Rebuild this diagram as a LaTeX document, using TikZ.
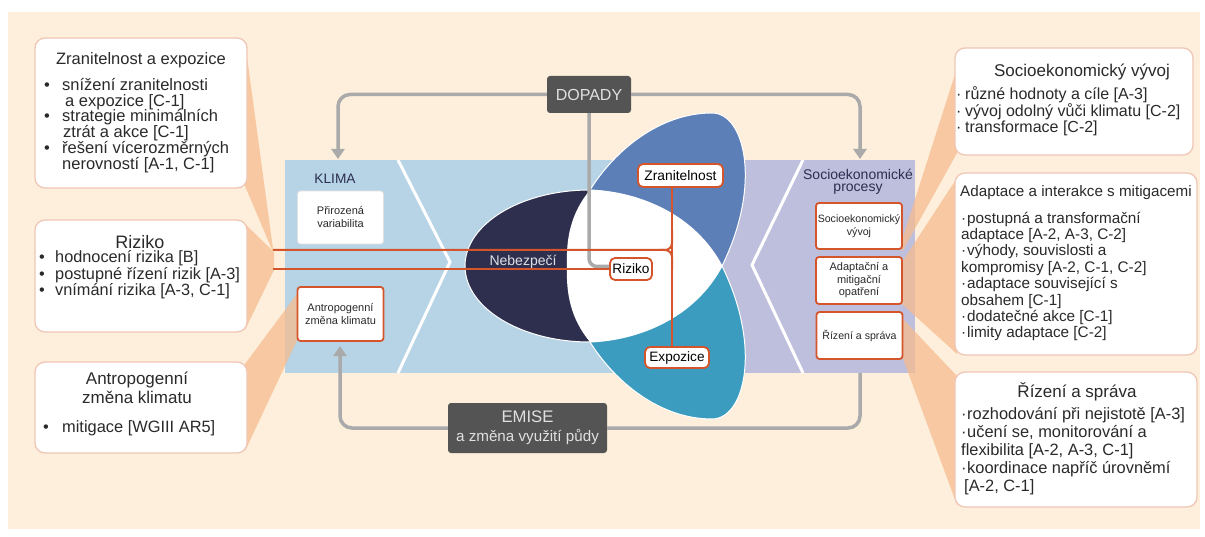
\documentclass[tikz,border=0pt]{standalone}
\usepackage{fontspec}
\setmainfont{Liberation Sans}
\usetikzlibrary{arrows.meta}
\definecolor{peach}{HTML}{FDEFDC}
\definecolor{wedge}{HTML}{F5BC8E}
\definecolor{klblue}{HTML}{B7D4E6}
\definecolor{lav}{HTML}{BEBEDD}
\definecolor{navy}{HTML}{2E2F4E}
\definecolor{petblue}{HTML}{5C7FB8}
\definecolor{petteal}{HTML}{3C9CC0}
\definecolor{redl}{HTML}{D5552B}
\definecolor{conn}{HTML}{AAAAAA}
\definecolor{dbox}{HTML}{545454}
\definecolor{bord}{HTML}{F0C6B6}
\definecolor{txt}{HTML}{2A2A2A}
\definecolor{paneltxt}{HTML}{2B2E50}
\newcommand{\myfs}[2]{\fontsize{#1}{#2}\selectfont}
\begin{document}
\begin{tikzpicture}[x=1pt,y=-1pt,
  bigbox/.style={draw=bord, line width=1.3pt, fill=white, rounded corners=10pt, inner sep=0pt},
  smallbox/.style={draw=redl, line width=1.8pt, fill=white, rounded corners=3pt, align=center, inner sep=0pt, text=txt, minimum width=86pt},
  plainbox/.style={draw=black!12, line width=0.8pt, fill=white, rounded corners=3pt, align=center, inner sep=0pt, text=txt, minimum width=86pt},
  tagbox/.style={draw=redl, line width=1.8pt, fill=white, rounded corners=5pt, inner sep=0pt, text=black},
  darkbox/.style={fill=dbox, rounded corners=3pt, text=white!88!black, align=center, inner sep=0pt},
  connline/.style={draw=conn, line width=3.5pt, rounded corners=12pt},
  connarrow/.style={connline, -{Triangle[width=13pt,length=10pt]}},
  redline/.style={draw=redl, line width=2pt},
  wedgefill/.style={fill=wedge, fill opacity=0.75, draw=none},
  txtn/.style={inner sep=0pt, text=txt},
  shapeedge/.style={draw=white, line width=1pt},
]
\useasboundingbox (0,0) rectangle (1205,537);
\fill[white] (0,0) rectangle (1205,537);
\fill[peach] (8,12) rectangle (1200,529);

% panels
\fill[klblue] (285,160) rectangle (680,373);
\fill[lav] (680,160) rectangle (915,373);
\draw[white, line width=3pt] (398,160) -- (450,262) -- (398,373);
\draw[white, line width=3pt] (803,160) -- (752,265) -- (803,373);

% callout wedges
\fill[wedgefill] (245,42) -- (273,249) -- (273,252) -- (245,186) -- cycle;
\fill[wedgefill] (245,224) -- (274,252) -- (274,270) -- (245,330) -- cycle;
\fill[wedgefill] (245,364) -- (300,290) -- (300,334) -- (245,451) -- cycle;
\fill[wedgefill] (957,68) -- (902,240) -- (902,252) -- (957,153) -- cycle;
\fill[wedgefill] (957,178) -- (902,262) -- (902,304) -- (957,354) -- cycle;
\fill[wedgefill] (957,376) -- (902,318) -- (902,356) -- (957,505) -- cycle;

% central shapes
\path[fill=navy, shapeedge] (590,266) ellipse [x radius=125pt, y radius=76pt];
\path[fill=petblue, shapeedge] (590,190) .. controls (615,150) and (660,113) .. (712,113)
  .. controls (745,113) and (762,185) .. (722,266)
  .. controls (695,215) and (640,192) .. (590,190) -- cycle;
\path[fill=petteal, shapeedge] (590,342) .. controls (615,382) and (660,419) .. (712,419)
  .. controls (745,419) and (762,347) .. (722,266)
  .. controls (695,317) and (640,340) .. (590,342) -- cycle;
\path[fill=white] (590,190) .. controls (640,192) and (695,215) .. (722,266)
  .. controls (695,317) and (640,340) .. (590,342)
  .. controls (570,318) and (566,292) .. (567,266)
  .. controls (566,240) and (570,214) .. (590,190) -- cycle;

% panel texts
\node[inner sep=0pt, text=paneltxt, font=\myfs{13.7}{15}] (klima) at (335,179) {KLIMA};
\node[inner sep=0pt, text=paneltxt, font=\myfs{14}{12.5}, align=center] (sproc) at (858,182) {Socioekonomické\\procesy};
\node[inner sep=0pt, text=white!85!navy, font=\myfs{14}{15}] (neb) at (523,262) {Nebezpečí};

% small boxes in panels
\node[plainbox, minimum height=53pt, font=\myfs{11}{13}] (pv) at (340.5,217.5) {Přirozená\\variabilita};
\node[smallbox, minimum height=54pt, font=\myfs{11}{13.5}] (az) at (340.5,314) {Antropogenní\\změna klimatu};
\node[smallbox, minimum height=46pt, font=\myfs{10.6}{13}] (sv) at (859,226) {Socioekonomický\\vývoj};
\node[smallbox, minimum height=47pt, font=\myfs{11}{12.5}] (am) at (859,280.5) {Adaptační a\\mitigační\\opatření};
\node[smallbox, minimum height=47pt, font=\myfs{10.6}{13}] (rs) at (859.5,335.5) {Řízení a správa};

% dark boxes
\node[darkbox, minimum width=84pt, minimum height=37pt, font=\myfs{16}{18}] (dop) at (589,94.5) {DOPADY};
\node[darkbox, minimum width=159pt, minimum height=50pt, font=\myfs{16}{19}] (em) at (527.5,428) {{\myfs{16.7}{19}EMISE}\\{\myfs{15.2}{19}a změna využití půdy}};

% tag boxes
\node[tagbox, minimum width=85pt, minimum height=23pt, font=\myfs{13.8}{15}] (zr) at (680.5,175.5) {Zranitelnost};
\node[tagbox, minimum width=42pt, minimum height=22pt, font=\myfs{13.6}{15}] (ri) at (631,269) {Riziko};
\node[tagbox, minimum width=64pt, minimum height=21pt, font=\myfs{13.6}{15}] (ex) at (677,357.5) {Expozice};

% gray connectors
\coordinate (kA) at (338,159);
\coordinate (sA) at (860,159);
\coordinate (aA) at (340,346);
\coordinate (eR) at (860,373);
\draw[connarrow] (dop.west) -| (kA);
\draw[connarrow] (dop.east) -| (sA);
\draw[connarrow] (em.west) -| (aA);
\draw[connline] (em.east) -| (eR);
\draw[connline, rounded corners=8pt] (dop.south) |- ([yshift=2.5pt]ri.west);

% red lines
\coordinate (lA) at (273,250);
\coordinate (lB) at (273,269);
\coordinate (bx) at (672,250);
\draw[redline] (zr.south -| bx) -- (ex.north -| bx);
\draw[redline, rounded corners=7pt] (lA) -- (bx) -- ([yshift=-20pt]bx);
\draw[redline, rounded corners=7pt] ([xshift=-12pt]bx) -- (bx) -- ([yshift=20pt]bx);
\draw[redline] (lB) -- (lB -| ri.west);

% left boxes
\node[bigbox, minimum width=212pt, minimum height=150pt] (b1) at (141,113) {};
\node[txtn, font=\myfs{16.5}{18}] (b1t) at (141,60) {Zranitelnost a expozice};
\node[txtn, font=\myfs{16.5}{15.8}, align=left, anchor=west] (b1l) at (44,125.5) {%
\makebox[18pt][l]{•}snížení zranitelnosti\\
\hspace*{21pt}a expozice [C-1]\\
\makebox[18pt][l]{•}strategie minimálních\\
\hspace*{19pt}ztrát a akce [C-1]\\
\makebox[18pt][l]{•}řešení vícerozměrných\\
\hspace*{18pt}nerovností [A-1, C-1]};

\node[bigbox, minimum width=212pt, minimum height=112pt] (b2) at (141,276) {};
\node[txtn, font=\myfs{18}{20}] (b2t) at (140,242) {Riziko};
\node[txtn, font=\myfs{16.3}{13.5}, align=left, anchor=west] (b2l) at (39,275) {%
\makebox[16pt][l]{•}hodnocení rizika [B]\\
\makebox[16pt][l]{•}postupné řízení rizik [A-3]\\
\makebox[16pt][l]{•}vnímání rizika [A-3, C-1]};

\node[bigbox, minimum width=212pt, minimum height=91pt] (b3) at (141,407.5) {};
\node[txtn, font=\myfs{17}{19}, align=center] (b3t) at (137,387.5) {Antropogenní\\změna klimatu};
\node[txtn, font=\myfs{16.4}{18}, anchor=west] (b3l) at (43,428) {\makebox[19pt][l]{•}mitigace [WGIII AR5]};

% right boxes
\node[bigbox, minimum width=238pt, minimum height=107pt] (r1) at (1074,101.5) {};
\node[txtn, font=\myfs{17}{19}] (r1t) at (1082,72) {Socioekonomický vývoj};
\node[txtn, font=\myfs{16}{12.8}, align=left, anchor=west] (r1l) at (956,111.5) {%
\makebox[9pt][l]{·}různé hodnoty a cíle [A-3]\\
\makebox[9pt][l]{·}vývoj odolný vůči klimatu [C-2]\\
\makebox[9pt][l]{·}transformace [C-2]};

\node[bigbox, minimum width=242pt, minimum height=182pt] (r2) at (1076,264) {};
\node[txtn, font=\myfs{15.2}{17}, anchor=west] (r2t) at (960,193) {Adaptace a interakce s mitigacemi};
\node[txtn, font=\myfs{15.3}{16.4}, align=left, anchor=west] (r2l) at (961,276.5) {%
\makebox[6pt][l]{·}postupná a transformační\\
adaptace [A-2, A-3, C-2]\\
\makebox[6pt][l]{·}výhody, souvislosti a\\
kompromisy [A-2, C-1, C-2]\\
\makebox[6pt][l]{·}adaptace související s\\
obsahem [C-1]\\
\makebox[6pt][l]{·}dodatečné akce [C-1]\\
\makebox[6pt][l]{·}limity adaptace [C-2]};

\node[bigbox, minimum width=242pt, minimum height=135pt] (r3) at (1076,439.5) {};
\node[txtn, font=\myfs{17}{19}] (r3t) at (1077,392) {Řízení a správa};
\node[txtn, font=\myfs{16.4}{18}, align=left, anchor=west] (r3l) at (961,451) {%
\makebox[6pt][l]{·}rozhodování při nejistotě [A-3]\\
\makebox[6pt][l]{·}učení se, monitorování a\\
flexibilita [A-2, A-3, C-1]\\
\makebox[6pt][l]{·}koordinace napříč úrovněmí\\
\hspace*{3pt}[A-2, C-1]};
\end{tikzpicture}
\end{document}
